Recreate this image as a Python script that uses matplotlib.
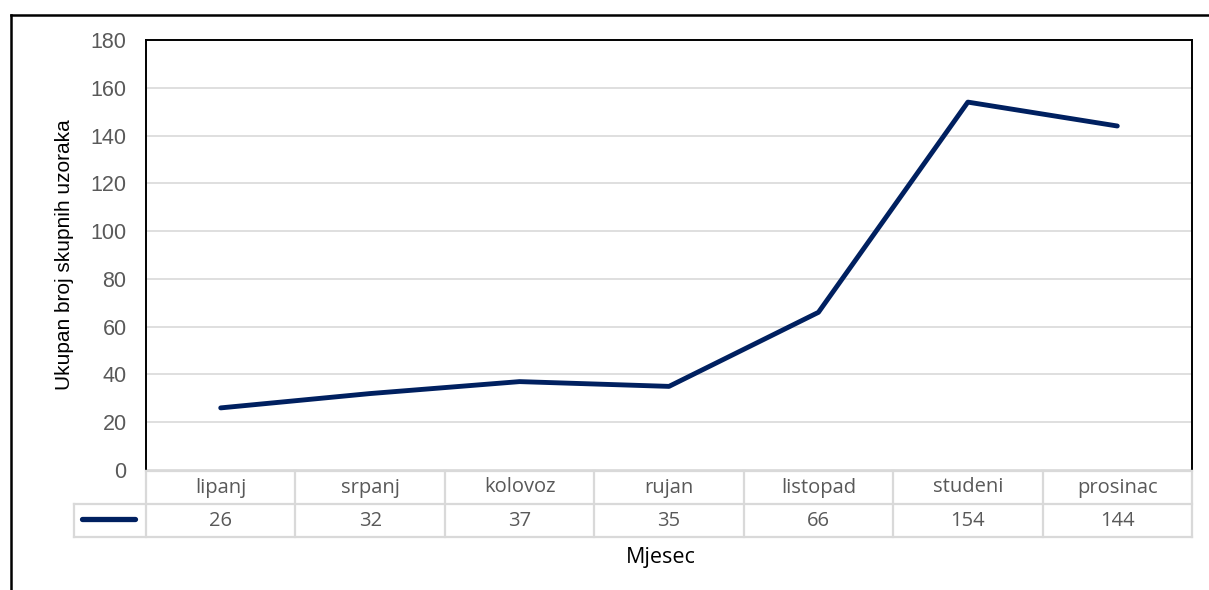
#!/usr/bin/env python3
"""Line chart of monthly pooled sample counts with an Excel-style data table."""

import matplotlib
matplotlib.use("Agg")
from matplotlib import pyplot as plt
from matplotlib.lines import Line2D

# Data
months = ["lipanj", "srpanj", "kolovoz", "rujan", "listopad", "studeni", "prosinac"]
counts = [26, 32, 37, 35, 66, 154, 144]
y_ticks = [0, 20, 40, 60, 80, 100, 120, 140, 160, 180]

LINE_COLOR = "#002060"
GRID_COLOR = "#d9d9d9"
TICK_COLOR = "#595959"

W, H = 1209, 590


def fx(px):
    return px / W


def fy(py):
    return 1 - py / H


def main():
    fig = plt.figure(figsize=(W / 100, H / 100), dpi=100)

    # Plot area
    left, right, top, bottom = 146, 1192, 40, 470
    ax = fig.add_axes([fx(left), fy(bottom), fx(right - left), fy(top) - fy(bottom)])
    x = list(range(len(months)))
    ax.plot(x, counts, color=LINE_COLOR, lw=3.5, solid_capstyle="round", solid_joinstyle="round", zorder=3)
    ax.set_xlim(-0.5, len(months) - 0.5)
    ax.set_ylim(0, 180)
    ax.set_yticks(y_ticks)
    ax.set_xticks([])
    ax.yaxis.grid(True, color=GRID_COLOR, lw=1.2)
    ax.set_axisbelow(True)
    ax.tick_params(axis="y", length=0, pad=14, labelsize=15.5, labelcolor=TICK_COLOR)
    for lab in ax.get_yticklabels():
        lab.set_fontfamily("Liberation Sans")
    for side in ["left", "top", "right"]:
        ax.spines[side].set_color("black")
        ax.spines[side].set_linewidth(1.4)
    ax.spines["bottom"].set_visible(False)
    ax.set_ylabel("Ukupan broj skupnih uzoraka", fontsize=15, family="Liberation Sans", labelpad=12)

    # Data table below the plot
    row1, row2, row3 = 471, 504, 537
    legend_left = 74
    col_w = (right - left) / len(months)
    tbl = dict(color=GRID_COLOR, lw=1.6, transform=fig.transFigure)
    fig.add_artist(Line2D([fx(left), fx(right)], [fy(row1), fy(row1)], **tbl))
    fig.add_artist(Line2D([fx(legend_left), fx(right)], [fy(row2), fy(row2)], **tbl))
    fig.add_artist(Line2D([fx(legend_left), fx(right)], [fy(row3), fy(row3)], **tbl))
    fig.add_artist(Line2D([fx(legend_left), fx(legend_left)], [fy(row2), fy(row3)], **tbl))
    for i in range(len(months) + 1):
        cx = left + i * col_w
        fig.add_artist(Line2D([fx(cx), fx(cx)], [fy(row1), fy(row3)], **tbl))
    for i, (m, c) in enumerate(zip(months, counts)):
        cx = left + (i + 0.5) * col_w
        fig.text(fx(cx), fy((row1 + row2) / 2), m, ha="center", va="center",
                 fontsize=14.5, family="Open Sans", color=TICK_COLOR)
        fig.text(fx(cx), fy((row2 + row3) / 2), str(c), ha="center", va="center",
                 fontsize=14.5, family="Open Sans", color=TICK_COLOR)
    # legend key in the table
    fig.add_artist(Line2D([fx(82), fx(135)], [fy(519), fy(519)], color=LINE_COLOR, lw=3.8,
                          solid_capstyle="round", transform=fig.transFigure))

    fig.text(fx(661), fy(557), "Mjesec", ha="center", va="center", fontsize=15.5, family="Open Sans")

    # Outer chart frame
    frame = dict(color="black", lw=1.8, transform=fig.transFigure)
    fig.add_artist(Line2D([fx(11), fx(11)], [fy(15), 0], **frame))
    fig.add_artist(Line2D([fx(11), 1], [fy(15), fy(15)], **frame))

    fig.savefig("out.png", dpi=100, facecolor="white")


if __name__ == "__main__":
    main()
